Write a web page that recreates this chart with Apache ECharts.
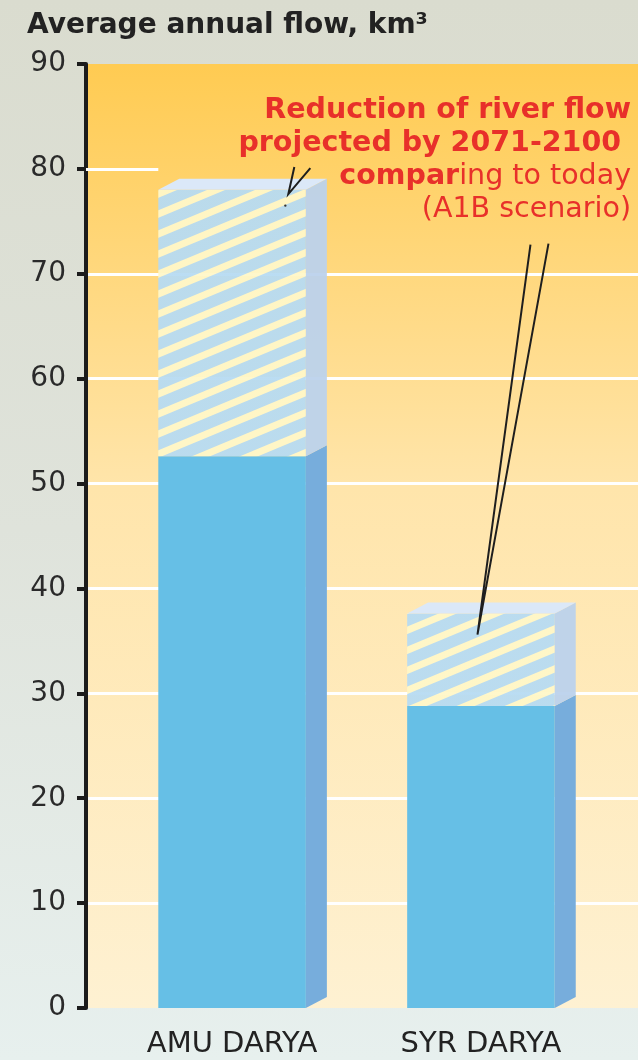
<!DOCTYPE html>
<html>
<head>
<meta charset="utf-8">
<script src="https://cdn.jsdelivr.net/npm/echarts@6/dist/echarts.min.js"></script>
<style>
  html, body { margin: 0; padding: 0; }
  body { background: linear-gradient(to bottom, #DADCCF 0%, #DFE3DB 50%, #E7F0EE 100%); }
  #chart { width: 638px; height: 1060px; }
</style>
</head>
<body>
<div id="chart"></div>
<script>
// River names shown along the bottom
const categories = ['AMU DARYA', 'SYR DARYA'];
// Average annual flow today, km³
const todayFlow = [78.0, 37.6];
// Average annual flow projected for 2071-2100 (A1B scenario), km³
const projectedFlow = [52.6, 28.8];
// Value-axis ticks
const yTicks = [0, 10, 20, 30, 40, 50, 60, 70, 80, 90];

// Horizontal extent of the plot in category units (category i sits at x = i)
const X_MIN = -0.587;
const X_MAX = 1.631;
const BAR_W = 0.593;      // bar width in category units
const DEPTH_X = 21;       // 3D side depth, px
const DEPTH_Y = 11;

// Diagonal stripe tile for the reduction part of each bar
function stripeTile() {
  const w = 48, h = 20;
  const c = document.createElement('canvas');
  c.width = w; c.height = h;
  const g = c.getContext('2d');
  g.fillStyle = '#B7DBF2';
  g.fillRect(0, 0, w, h);
  g.strokeStyle = '#FFF7C8';
  g.lineWidth = 7;
  for (let k = -1; k <= 1; k++) {
    g.beginPath();
    g.moveTo(-w, 2 * h + k * h);
    g.lineTo(2 * w, -h + k * h);
    g.stroke();
  }
  return c;
}
const stripes = { image: stripeTile(), repeat: 'repeat' };

const barData = categories.map((name, i) => [i, projectedFlow[i], todayFlow[i]]);

const chart = echarts.init(document.getElementById('chart'), null, { renderer: 'canvas' });

const FONT = 'DejaVu Sans';
const RED = '#E8302A';

chart.setOption({
  backgroundColor: 'transparent',
  animation: false,
  title: {
    text: 'Average annual flow, km³',
    left: 22,
    top: 7,
    textStyle: { fontFamily: FONT, fontSize: 28, fontWeight: 'bold', color: '#222' }
  },
  grid: {
    left: 86, right: 0, top: 64, bottom: 52,
    show: true,
    borderWidth: 0,
    backgroundColor: {
      type: 'linear', x: 0, y: 0, x2: 0, y2: 1,
      colorStops: [
        { offset: 0, color: '#FFCB52' },
        { offset: 0.45, color: '#FFE5AB' },
        { offset: 1, color: '#FEF1D2' }
      ]
    }
  },
  xAxis: {
    type: 'value',
    min: X_MIN,
    max: X_MAX,
    axisLine: { show: false },
    axisTick: { show: false },
    splitLine: { show: false },
    axisLabel: {
      customValues: [0, 1],
      formatter: v => categories[Math.round(v)],
      fontFamily: FONT,
      fontSize: 29,
      color: '#222',
      margin: 22
    }
  },
  yAxis: {
    type: 'value',
    min: 0,
    max: 90,
    interval: 10,
    axisLine: { show: true, onZero: false, lineStyle: { color: '#1c1c1c', width: 4 } },
    axisTick: { show: true, length: 9, lineStyle: { color: '#1c1c1c', width: 4 } },
    axisLabel: {
      formatter: v => String(v),
      fontFamily: FONT,
      fontSize: 28,
      color: '#2a2a2a',
      margin: 20
    },
    splitLine: {
      show: true,
      lineStyle: {
        width: 3,
        color: yTicks.map(v => (v === 0 || v === 80 || v === 90) ? 'rgba(0,0,0,0)' : '#FFFFFF')
      }
    }
  },
  series: [{
    type: 'custom',
    data: barData,
    encode: { x: 0, y: [1, 2] },
    renderItem(params, api) {
      const i = api.value(0);
      const lo = api.value(1);
      const hi = api.value(2);
      const base = api.coord([i, 0]);
      const pLo = api.coord([i, lo]);
      const pHi = api.coord([i, hi]);
      const w = api.size([BAR_W, 0])[0];
      const x0 = base[0] - w / 2;
      const x1 = base[0] + w / 2;
      const yb = base[1], yl = pLo[1], yh = pHi[1];
      const dx = DEPTH_X, dy = DEPTH_Y;
      return {
        type: 'group',
        children: [
          { type: 'rect', shape: { x: x0, y: yl, width: w, height: yb - yl },
            style: { fill: '#66BFE6' } },
          { type: 'polygon', shape: { points: [[x1, yb], [x1 + dx, yb - dy], [x1 + dx, yl - dy], [x1, yl]] },
            style: { fill: '#77ADDC' } },
          { type: 'rect', shape: { x: x0, y: yh, width: w, height: yl - yh },
            style: { fill: stripes, opacity: 0.95 } },
          { type: 'polygon', shape: { points: [[x1, yl], [x1 + dx, yl - dy], [x1 + dx, yh - dy], [x1, yh]] },
            style: { fill: '#BCD2EC', opacity: 0.95 } },
          { type: 'polygon', shape: { points: [[x0, yh], [x0 + dx, yh - dy], [x1 + dx, yh - dy], [x1, yh]] },
            style: { fill: '#DBE8F8' } }
        ]
      };
    },
    markLine: {
      silent: true,
      symbol: 'none',
      label: { show: false },
      lineStyle: { color: '#FFFFFF', width: 3, type: 'solid' },
      data: [[{ coord: [X_MIN, 80] }, { coord: [-BAR_W / 2, 80] }]]
    },
    z: 2
  }]
});

// Annotation: text block and V-shaped pointers onto each bar's reduction part
function drawAnnotation() {
  const tipAmu = chart.convertToPixel({ gridIndex: 0 }, [0.226, 77.6]);
  const tipSyr = chart.convertToPixel({ gridIndex: 0 }, [0.986, 35.6]);
  const dot = chart.convertToPixel({ gridIndex: 0 }, [0.214, 76.5]);
  const lineStyle = { stroke: '#1e1e1e', lineWidth: 2 };
  chart.setOption({
    graphic: [
      {
        type: 'text',
        right: 7,
        top: 96,
        z: 10,
        style: {
          text: '{b|Reduction of river flow}\n{b|projected by 2071-2100 }\n{b|compar}{n|ing to today}\n{n|(A1B scenario)}',
          align: 'right',
          rich: {
            b: { fontFamily: FONT, fontSize: 28.5, fontWeight: 'bold', fill: RED, lineHeight: 33, align: 'right' },
            n: { fontFamily: FONT, fontSize: 28.5, fontWeight: 'normal', fill: RED, lineHeight: 33, align: 'right' }
          }
        }
      },
      { type: 'polyline', z: 10, shape: { points: [[tipAmu[0] + 6, tipAmu[1] - 27], tipAmu, [tipAmu[0] + 22, tipAmu[1] - 26]] }, style: lineStyle },
      { type: 'circle', z: 10, shape: { cx: dot[0], cy: dot[1], r: 1.2 }, style: { fill: '#333' } },
      { type: 'polyline', z: 10, shape: { points: [[tipSyr[0] + 53, tipSyr[1] - 390], tipSyr, [tipSyr[0] + 71, tipSyr[1] - 391]] }, style: lineStyle }
    ]
  });
}
drawAnnotation();
</script>
</body>
</html>
